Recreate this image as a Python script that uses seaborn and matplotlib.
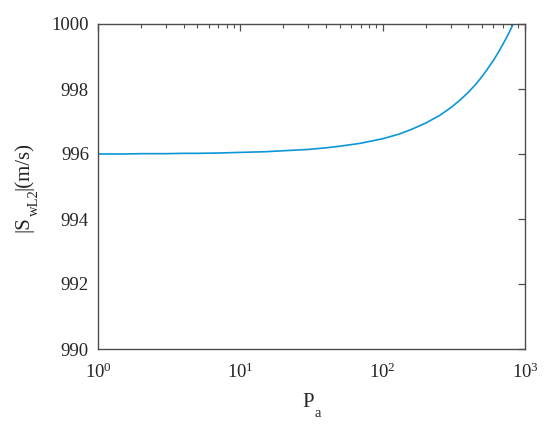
# Recreate |S_wL2| vs P_a curve (log x axis)

import pandas as pd
import seaborn as sns
import matplotlib.pyplot as plt

# values
pa = [1, 1.5, 2, 3, 4, 5, 7, 10, 15, 20, 30, 40, 50, 70, 100, 130, 160,
      200, 250, 300, 350, 400, 450, 500, 550, 600, 650, 700, 750, 800, 830]
swl2 = [996.00, 996.00, 996.01, 996.01, 996.02, 996.02, 996.03, 996.05,
        996.07, 996.10, 996.14, 996.19, 996.24, 996.33, 996.47, 996.61,
        996.76, 996.95, 997.18, 997.42, 997.66, 997.90, 998.14, 998.39,
        998.64, 998.88, 999.13, 999.38, 999.62, 999.87, 1000.02]

y_ticks = [990, 992, 994, 996, 998, 1000]

# label pieces: (text, is_subscript)
xlabel_parts = [("P", False), ("a", True)]
ylabel_parts = [("|S", False), ("wL2", True), ("|(m/s)", False)]

df = pd.DataFrame({"Pa": pa, "SwL2": swl2})

sns.set_style("white")
plt.rcParams["font.family"] = ["Liberation Serif", "DejaVu Serif"]
plt.rcParams["mathtext.fontset"] = "custom"
plt.rcParams["mathtext.rm"] = "Liberation Serif"
plt.rcParams["mathtext.it"] = "Liberation Serif:italic"

W, H = 550, 426
fig = plt.figure(figsize=(5.5, 4.26), dpi=100)
ax = fig.add_axes([98 / W, 1 - 349 / H, 427 / W, 325 / H])

sns.lineplot(data=df, x="Pa", y="SwL2", ax=ax, color="#0b96d6", linewidth=1.2)

ax.set_xscale("log")
ax.set_xlim(1, 1000)
ax.set_ylim(990, 1000)
ax.set_yticks(y_ticks)
ax.set_yticklabels([str(v) for v in y_ticks])
ax.set_xlabel("")
ax.set_ylabel("")

edge = "#4d4d4d"
txt = "#262626"
for s in ax.spines.values():
    s.set_visible(True)
    s.set_color(edge)
    s.set_linewidth(1.0)

ax.tick_params(which="both", direction="in", top=True, right=True,
               colors=edge, labelcolor=txt, labelsize=13.5)
ax.tick_params(which="major", length=5, width=0.9)
ax.tick_params(which="minor", length=3, width=0.8)
ax.tick_params(axis="x", pad=10)
ax.tick_params(axis="y", pad=6.5)

# MATLAB-like labels with a deep subscript, built piece by piece in pixels
renderer = fig.canvas.get_renderer()
main_size, sub_size, drop = 15, 10.5, 10


def piece_width(s, size):
    t = fig.text(0, 0, s, fontsize=size)
    w = t.get_window_extent(renderer).width
    t.remove()
    return w


def draw_label(parts, center, base, vertical):
    widths = [piece_width(s, sub_size if sub else main_size) for s, sub in parts]
    pos = center - sum(widths) / 2
    for (s, sub), w in zip(parts, widths):
        size = sub_size if sub else main_size
        off = drop if sub else 0
        if vertical:
            # reads bottom to top, subscript pushed to the right
            fig.text((base + off) / W, pos / H, s, fontsize=size, color=txt,
                     rotation=90, rotation_mode="anchor",
                     ha="left", va="baseline")
        else:
            fig.text(pos / W, (H - base - off) / H, s, fontsize=size, color=txt,
                     ha="left", va="baseline")
        pos += w


# x label: centred on the axes, baseline at y=407 px from top
draw_label(xlabel_parts, 311.5, 407, vertical=False)
# y label: centred on the axes (from bottom), baseline at x=28 px
draw_label(ylabel_parts, H - 187, 28, vertical=True)

fig.savefig("out.png", dpi=100, facecolor="white")
